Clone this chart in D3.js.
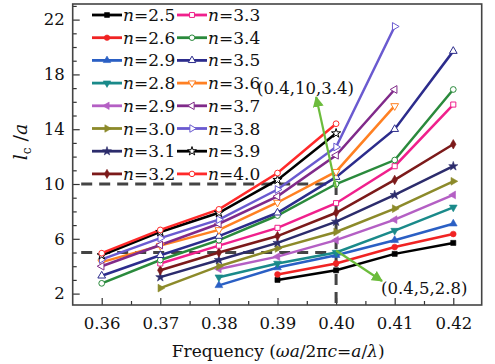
<!DOCTYPE html>
<html><head><meta charset="utf-8">
<script src="https://cdn.jsdelivr.net/npm/d3@7"></script>
<style>body{margin:0;background:#fff}svg{display:block}</style>
</head><body><svg id="c" width="495" height="364"></svg>
<script>
const freqs = [0.36, 0.37, 0.38, 0.39, 0.40, 0.41, 0.42];
const xTicks = [0.36, 0.37, 0.38, 0.39, 0.40, 0.41, 0.42];
const yTicks = [2, 6, 10, 14, 18, 22];
const legendLabels = ["2.5","2.6","2.9","2.8","2.9","3.0","3.1","3.2","3.3","3.4","3.5","3.6","3.7","3.8","3.9","4.0"];
const n2_5 = [null, null, null, 3.0, 3.7, 4.9, 5.7];
const n2_6 = [null, null, null, 3.4, 4.2, 5.4, 6.35];
const n2_7 = [null, null, 2.6, 3.9, 4.8, 5.9, 7.1];
const n2_8 = [null, null, 3.2, 4.2, 5.0, 6.6, 8.3];
const n2_9 = [null, null, 3.8, 4.7, 5.9, 7.4, 9.2];
const n3_0 = [null, 2.4, 4.0, 5.3, 6.5, 8.2, 10.2];
const n3_1 = [null, 3.2, 4.45, 5.7, 7.25, 9.2, 11.3];
const n3_2 = [null, 3.7, 5.0, 6.2, 7.9, 10.3, 12.9];
const n3_3 = [null, 4.2, 5.5, 6.8, 8.6, 11.3, 15.8];
const n3_4 = [2.75, 4.45, 5.9, 7.7, 10.0, 11.75, 16.9];
const n3_5 = [3.3, 4.8, 6.2, 7.9, 10.5, 14.0, 19.7];
const n3_6 = [4.3, 5.5, 6.65, 8.65, 10.9, 15.7, null];
const n3_7 = [4.0, 5.55, 7.1, 9.1, 12.1, 16.9, null];
const n3_8 = [4.5, 6.05, 7.4, 9.6, 12.7, 21.5, null];
const n3_9 = [4.8, 6.5, 7.9, 10.3, 13.7, null, null];
const n4_0 = [4.95, 6.65, 8.15, 10.8, 14.4, null, null];
const seriesValues = [n2_5,n2_6,n2_7,n2_8,n2_9,n3_0,n3_1,n3_2,n3_3,n3_4,n3_5,n3_6,n3_7,n3_8,n3_9,n4_0];
const colors = ["#000000","#f02323","#2a5fc4","#1a8a8a","#b45fc4","#8c8a2a","#2c2c6c","#7c1a1a","#f0208c","#2a8a3c","#2c2c8c","#ff8022","#802a8a","#6a5ad0","#000000","#ff2a2a"];
const shapes = ["square","circle","tri-up","tri-down","tri-left","tri-right","star","diamond","square","circle","tri-up","tri-down","tri-left","tri-right","star","circle"];
const filled = [1,1,1,1,1,1,1,1,0,0,0,0,0,0,0,0];

const svg = d3.select("#c");
const L = 72.7, R = 481.7, T = 4, B = 305;
const x = d3.scaleLinear().domain([0.35505, 0.42485]).range([L, R]);
const y = d3.scaleLinear().domain([1.168, 23.14]).range([B, T]);
const serif = "'DejaVu Serif', serif";

function symPath(shape, size) {
  const m = {square: d3.symbolSquare, circle: d3.symbolCircle, star: d3.symbolStar, diamond: d3.symbolDiamond};
  if (m[shape]) return {d: d3.symbol(m[shape], size)(), rot: 0};
  const rot = {"tri-up":0, "tri-down":180, "tri-left":-90, "tri-right":90}[shape];
  return {d: d3.symbol(d3.symbolTriangle, size)(), rot};
}
function drawMarker(g, cx, cy, i, size) {
  const s = symPath(shapes[i], size);
  g.append("path").attr("d", s.d)
    .attr("transform", `translate(${cx},${cy}) rotate(${s.rot})`)
    .attr("fill", filled[i] ? colors[i] : "#fff")
    .attr("stroke", colors[i]).attr("stroke-width", filled[i] ? 0.6 : 1);
}

// axes (ticks inward)
const xAxis = d3.axisBottom(x).tickValues(xTicks).tickSize(-7).tickFormat(d3.format(".2f"));
const gx = svg.append("g").attr("transform", `translate(0,${B})`).call(xAxis);
gx.select(".domain").remove();
gx.selectAll("line").attr("stroke", "#333").attr("stroke-width", 1.2);
gx.selectAll("text").attr("font-family", serif).attr("font-size", 16.5).attr("fill", "#111").attr("dy", "1.25em");
const xMinor = d3.axisBottom(x).tickValues(d3.range(0.365, 0.425, 0.01)).tickSize(-4).tickFormat("");
const gxm = svg.append("g").attr("transform", `translate(0,${B})`).call(xMinor);
gxm.select(".domain").remove(); gxm.selectAll("line").attr("stroke", "#333").attr("stroke-width", 1.2);

const yAxis = d3.axisLeft(y).tickValues(yTicks).tickSize(-7);
const gy = svg.append("g").attr("transform", `translate(${L},0)`).call(yAxis);
gy.select(".domain").remove();
gy.selectAll("line").attr("stroke", "#333").attr("stroke-width", 1.2);
gy.selectAll("text").attr("font-family", serif).attr("font-size", 16.5).attr("fill", "#111").attr("x", -8);
const yMinor = d3.axisLeft(y).tickValues(d3.range(2, 24, 1).filter(v => !yTicks.includes(v))).tickSize(-4).tickFormat("");
const gym = svg.append("g").attr("transform", `translate(${L},0)`).call(yMinor);
gym.select(".domain").remove(); gym.selectAll("line").attr("stroke", "#333").attr("stroke-width", 1.2);

// dashed reference lines
const dash = {stroke: "#444", "stroke-width": 3, "stroke-dasharray": "11,7"};
function dline(x1, y1, x2, y2) {
  const l = svg.append("line").attr("x1", x1).attr("y1", y1).attr("x2", x2).attr("y2", y2);
  Object.entries(dash).forEach(([k, v]) => l.attr(k, v));
}
dline(x(0.3565), y(10), x(0.40), y(10));
dline(x(0.3565), y(5), x(0.40), y(5));
dline(x(0.40), y(10), x(0.40), B);

// series
const line = d3.line().defined(d => d.v != null).x(d => x(d.f)).y(d => y(d.v));
seriesValues.forEach((vals, i) => {
  const pts = freqs.map((f, k) => ({f, v: vals[k]}));
  svg.append("path").datum(pts).attr("d", line).attr("fill", "none")
    .attr("stroke", colors[i]).attr("stroke-width", 2.5);
});
seriesValues.forEach((vals, i) => {
  const g = svg.append("g");
  freqs.forEach((f, k) => { if (vals[k] != null) drawMarker(g, x(f), y(vals[k]), i, 26); });
});

// annotations
const defs = svg.append("defs");
defs.append("marker").attr("id", "ah").attr("viewBox", "0 0 10 10").attr("refX", 9).attr("refY", 5)
  .attr("markerWidth", 5).attr("markerHeight", 5).attr("orient", "auto")
  .append("path").attr("d", "M0,0L10,5L0,10z").attr("fill", "#6cbc3c");
svg.append("line").attr("x1", x(0.40)).attr("y1", y(10) + 4).attr("x2", x(0.3966)).attr("y2", 97)
  .attr("stroke", "#6cbc3c").attr("stroke-width", 2.2).attr("marker-end", "url(#ah)");
svg.append("line").attr("x1", x(0.40)).attr("y1", y(5) - 2).attr("x2", 382).attr("y2", 281)
  .attr("stroke", "#6cbc3c").attr("stroke-width", 2.2).attr("marker-end", "url(#ah)");
svg.append("text").attr("x", 257).attr("y", 94).attr("font-family", serif).attr("font-size", 16.5)
  .attr("fill", "#111").text("(0.4,10,3.4)");
svg.append("text").attr("x", 381).attr("y", 294).attr("font-family", serif).attr("font-size", 16.5)
  .attr("fill", "#111").text("(0.4,5,2.8)");

// legend
const legX = [92, 177], legY0 = 15, legDy = 22.7;
legendLabels.forEach((lab, i) => {
  const col = i < 8 ? 0 : 1, row = i % 8;
  const lx = legX[col], ly = legY0 + row * legDy;
  const g = svg.append("g");
  g.append("line").attr("x1", lx).attr("x2", lx + 30).attr("y1", ly).attr("y2", ly)
    .attr("stroke", colors[i]).attr("stroke-width", 2.8);
  drawMarker(g, lx + 15, ly, i, 24);
  const t = g.append("text").attr("x", lx + 31).attr("y", ly + 6).attr("font-family", serif)
    .attr("font-size", 17).attr("fill", "#111");
  t.append("tspan").attr("font-style", "italic").text("n");
  t.append("tspan").text("=" + lab);
});

// frame
svg.append("rect").attr("x", L).attr("y", T).attr("width", R - L).attr("height", B - T)
  .attr("fill", "none").attr("stroke", "#444").attr("stroke-width", 1.6);

// axis titles
const xt = svg.append("text").attr("x", (L + R) / 2 + 1).attr("y", 357).attr("text-anchor", "middle")
  .attr("font-family", serif).attr("font-size", 17).attr("fill", "#111");
[["Frequency (",0],["ωa",1],["/2π",0],["c",1],["=",0],["a",1],["/",0],["λ",1],[")",0]]
  .forEach(([s, it]) => xt.append("tspan").attr("font-style", it ? "italic" : "normal").text(s));
const yt = svg.append("text").attr("transform", "translate(27,142) rotate(-90)").attr("text-anchor", "middle")
  .attr("font-family", serif).attr("font-size", 19).attr("fill", "#111");
yt.append("tspan").attr("font-style", "italic").text("l");
yt.append("tspan").attr("font-size", 12).attr("dy", 4).text("c");
yt.append("tspan").attr("dy", -4).text(" /");
yt.append("tspan").attr("font-style", "italic").text("a");
</script></body></html>
